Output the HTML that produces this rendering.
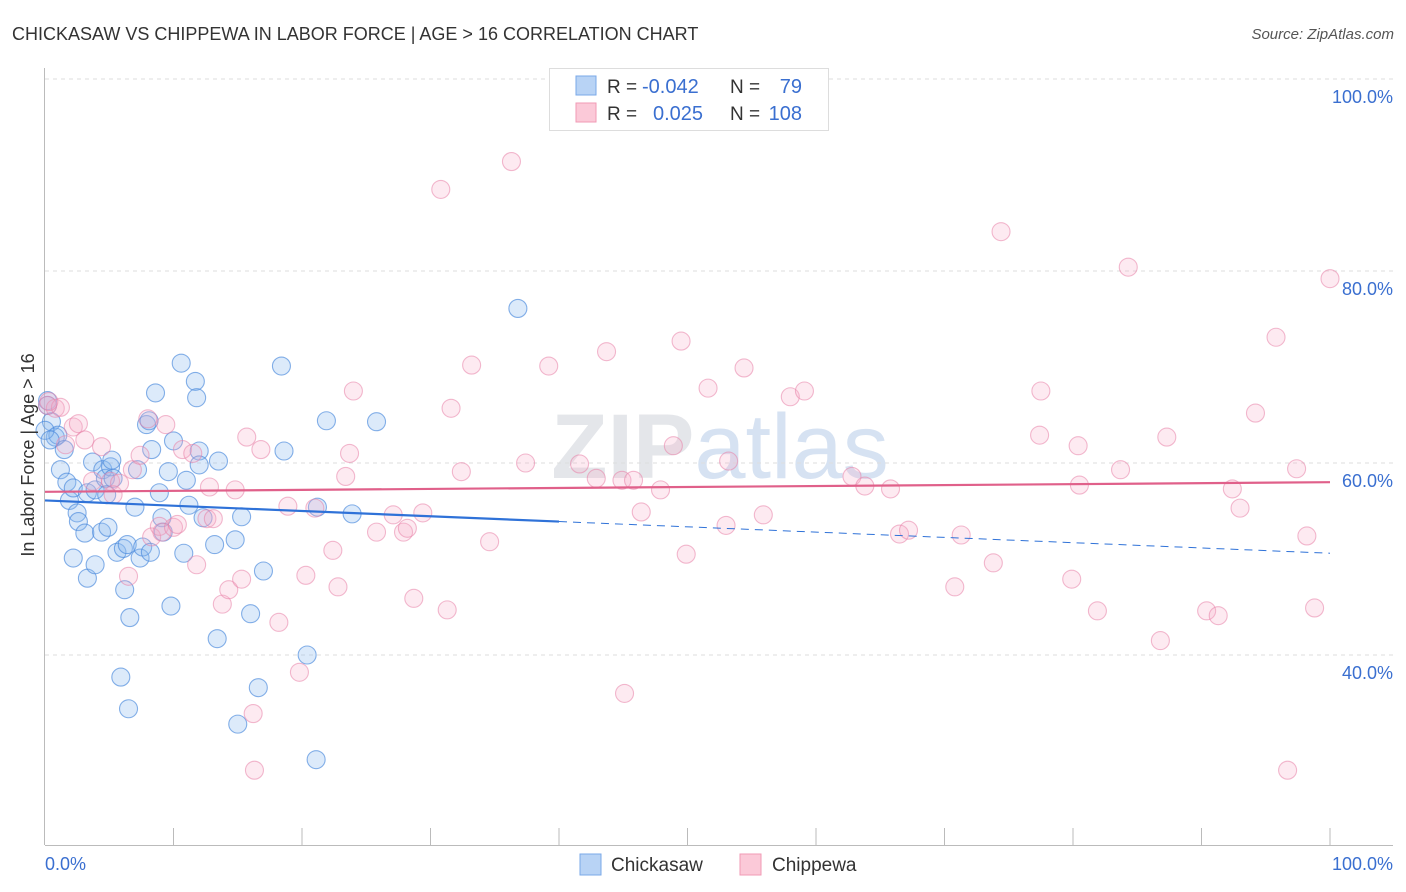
<!DOCTYPE html>
<html><head><meta charset="utf-8"><style>
body{margin:0;background:#fff;font-family:"Liberation Sans",sans-serif;}
#wrap{position:relative;width:1406px;height:892px;overflow:hidden}
svg text{font-family:"Liberation Sans",sans-serif}
</style></head><body>
<div id="wrap">
<svg id="chart" width="1406" height="892">
<text x="12" y="40" font-size="18" fill="#333">CHICKASAW VS CHIPPEWA IN LABOR FORCE | AGE &gt; 16 CORRELATION CHART</text>
<text x="1394" y="39" font-size="15" fill="#555" text-anchor="end" font-style="italic">Source: ZipAtlas.com</text>
<text x="720" y="478" font-size="92" fill="#e4e6ea" text-anchor="middle" font-weight="bold">ZIP<tspan font-weight="normal" fill="#d6e2f2">atlas</tspan></text>
<g id="grid"></g><g id="axes"></g><g id="pts"></g><g id="trends"></g>
<text transform="translate(34,455) rotate(-90)" font-size="18" fill="#333" text-anchor="middle">In Labor Force | Age &gt; 16</text>
<text x="45" y="870" font-size="18" fill="#3a6fd0">0.0%</text>
<text x="1393" y="870" font-size="18" fill="#3a6fd0" text-anchor="end">100.0%</text>
<g>
<rect x="549.5" y="68.5" width="279" height="62" fill="#fff" stroke="#ddd"/>
<rect x="576" y="76" width="20" height="19" fill="#b8d3f5" stroke="#7aa8e8"/>
<rect x="576" y="103" width="20" height="19" fill="#fbc9d8" stroke="#f09ab5"/>
<text x="607" y="93" font-size="19" fill="#333">R =</text>
<text x="642" y="93" font-size="20" fill="#3a6fd0">-0.042</text>
<text x="730" y="93" font-size="19" fill="#333">N =</text>
<text x="802" y="93" font-size="20" fill="#3a6fd0" text-anchor="end">79</text>
<text x="607" y="120" font-size="19" fill="#333">R =</text>
<text x="653" y="120" font-size="20" fill="#3a6fd0">0.025</text>
<text x="730" y="120" font-size="19" fill="#333">N =</text>
<text x="802" y="120" font-size="20" fill="#3a6fd0" text-anchor="end">108</text>
</g>
<g>
<rect x="580" y="854" width="21" height="21" fill="#b8d3f5" stroke="#7aa8e8"/>
<text x="611" y="871" font-size="19" fill="#333">Chickasaw</text>
<rect x="740" y="854" width="21" height="21" fill="#fbc9d8" stroke="#f09ab5"/>
<text x="772" y="871" font-size="19" fill="#333">Chippewa</text>
</g>
</svg></div>
<script>
const yTicks=[100,80,60,40];
const yTickLabels=["100.0%","80.0%","60.0%","40.0%"];
const chickX=[0.2,0.5,0.8,1.0,1.2,1.5,1.7,1.9,2.2,2.5,2.6,2.2,3.1,3.3,3.3,3.7,3.9,3.9,4.4,4.5,4.7,4.8,4.9,5.1,5.2,5.3,5.6,6.1,6.2,6.4,6.6,5.9,6.5,7.0,7.2,7.4,7.6,7.9,8.1,8.2,8.3,8.6,8.9,9.1,9.2,9.6,9.8,10.0,10.6,11.0,10.8,11.2,11.7,11.8,12.0,12.0,12.3,13.2,13.5,13.4,14.8,15.3,15.0,16.0,17.0,16.6,18.4,18.6,20.4,21.1,21.2,21.9,23.9,25.8,36.8,0.2,0.0,0.4];
const chickY=[66.5,64.3,62.7,62.9,59.3,61.4,58.0,56.1,57.4,54.8,53.9,50.1,52.7,48.0,56.9,60.1,57.2,49.4,52.8,59.3,58.4,56.7,53.3,59.6,60.3,58.4,50.7,51.1,46.8,51.5,43.9,37.7,34.4,55.4,59.3,50.1,51.25,64.0,64.4,50.7,61.4,67.3,56.9,54.3,52.8,59.1,45.1,62.3,70.4,58.2,50.6,55.6,68.5,66.8,61.25,59.8,54.3,51.5,60.2,41.7,52.0,54.4,32.8,44.3,48.75,36.6,70.1,61.25,40.0,29.1,55.4,64.4,54.7,64.3,76.1,66.0,63.4,62.4];
const chipX=[0.2,0.8,1.2,1.6,2.2,2.6,3.1,3.7,4.4,5.1,5.3,5.8,6.5,6.8,7.4,8.0,8.3,8.9,9.1,9.4,10.0,10.3,10.7,11.5,11.8,12.8,12.6,13.1,13.8,14.3,14.8,15.3,15.7,16.2,16.3,16.8,18.2,18.9,19.8,20.3,21.0,22.4,22.8,23.4,23.7,24.0,25.8,27.1,27.9,28.2,28.7,29.4,30.8,31.3,31.6,32.4,33.2,34.6,36.3,37.4,39.2,41.6,42.9,43.7,45.1,44.9,45.8,46.4,47.9,48.9,49.5,49.9,51.6,53.0,53.2,54.4,55.9,58.0,59.1,62.8,63.8,65.8,66.5,67.2,70.8,71.3,73.8,74.4,77.5,77.4,79.9,80.4,80.5,81.9,83.7,84.3,86.8,87.3,90.4,91.3,92.4,93.0,94.2,95.8,96.7,97.4,98.2,98.8,100,0.3];
const chipY=[66.0,65.7,65.8,61.9,63.75,64.1,62.4,58.1,61.7,58.1,56.7,57.9,48.2,59.3,60.8,64.6,52.3,53.4,52.8,64.0,53.3,53.6,61.4,61.0,49.4,57.5,54.2,54.2,45.3,46.8,57.2,47.9,62.7,33.9,28.0,61.4,43.4,55.5,38.2,48.3,55.3,50.9,47.1,58.6,61.0,67.5,52.8,54.6,52.8,53.2,45.9,54.8,88.5,44.7,65.7,59.1,70.2,51.8,91.4,60.0,70.1,59.9,58.4,71.6,36.0,58.2,58.2,54.9,57.2,61.8,72.7,50.5,67.8,53.5,60.2,69.9,54.6,66.9,67.5,58.6,57.6,57.3,52.6,53.0,47.1,52.5,49.6,84.1,67.5,62.9,47.9,61.8,57.7,44.6,59.3,80.4,41.5,62.7,44.6,44.1,57.3,55.3,65.2,73.1,28.0,59.4,52.4,44.9,79.2,66.4];
const chickTrend=[56.1,50.6];
const chipTrend=[57.0,58.0];
const NS="http://www.w3.org/2000/svg";
const X=v=>45+v*12.85, Y=v=>79+(100-v)*9.6;
function mk(tag,attrs,parent){const e=document.createElementNS(NS,tag);for(const k in attrs)e.setAttribute(k,attrs[k]);document.getElementById(parent).appendChild(e);return e;}
yTicks.forEach((t,i)=>{
 const l=mk('line',{x1:45,x2:1393,y1:Y(t),y2:Y(t),stroke:'#ddd','stroke-dasharray':'4,4'},'grid');
 
 
 const tx=mk('text',{x:1393,y:Y(t)+24,'font-size':18,fill:'#3a6fd0','text-anchor':'end'},'grid');
 tx.textContent=yTickLabels[i];
 
 
});
const a1=mk('line',{x1:44.5,x2:44.5,y1:68,y2:845,stroke:'#bbb'},'axes');


const a2=mk('line',{x1:45,x2:1393,y1:845.5,y2:845.5,stroke:'#bbb'},'axes');


for(let k=1;k<=10;k++){const t=mk('line',{x1:X(k*10),x2:X(k*10),y1:828,y2:845,stroke:'#bbb'},'axes');
 
 }
chickX.forEach((x,i)=>{const c=mk('circle',{cx:X(x),cy:Y(chickY[i]),r:9,fill:'rgba(140,185,240,0.3)',stroke:'rgba(70,135,220,0.65)','stroke-width':1.1},'pts');
 
 });
chipX.forEach((x,i)=>{const c=mk('circle',{cx:X(x),cy:Y(chipY[i]),r:9,fill:'rgba(248,170,198,0.25)',stroke:'rgba(232,130,168,0.55)','stroke-width':1.1},'pts');
 
 });
const cy=x=>chickTrend[0]+(chickTrend[1]-chickTrend[0])*x/100;
let t1=mk('line',{x1:X(0),y1:Y(cy(0)),x2:X(40),y2:Y(cy(40)),stroke:'#2f72d8','stroke-width':2.2},'trends');


let t2=mk('line',{x1:X(40),y1:Y(cy(40)),x2:X(100),y2:Y(cy(100)),stroke:'#2f72d8','stroke-width':1,'stroke-dasharray':'8,6'},'trends');


let t3=mk('line',{x1:X(0),y1:Y(chipTrend[0]),x2:X(100),y2:Y(chipTrend[1]),stroke:'#e0608a','stroke-width':2.2},'trends');


</script>
</body></html>
